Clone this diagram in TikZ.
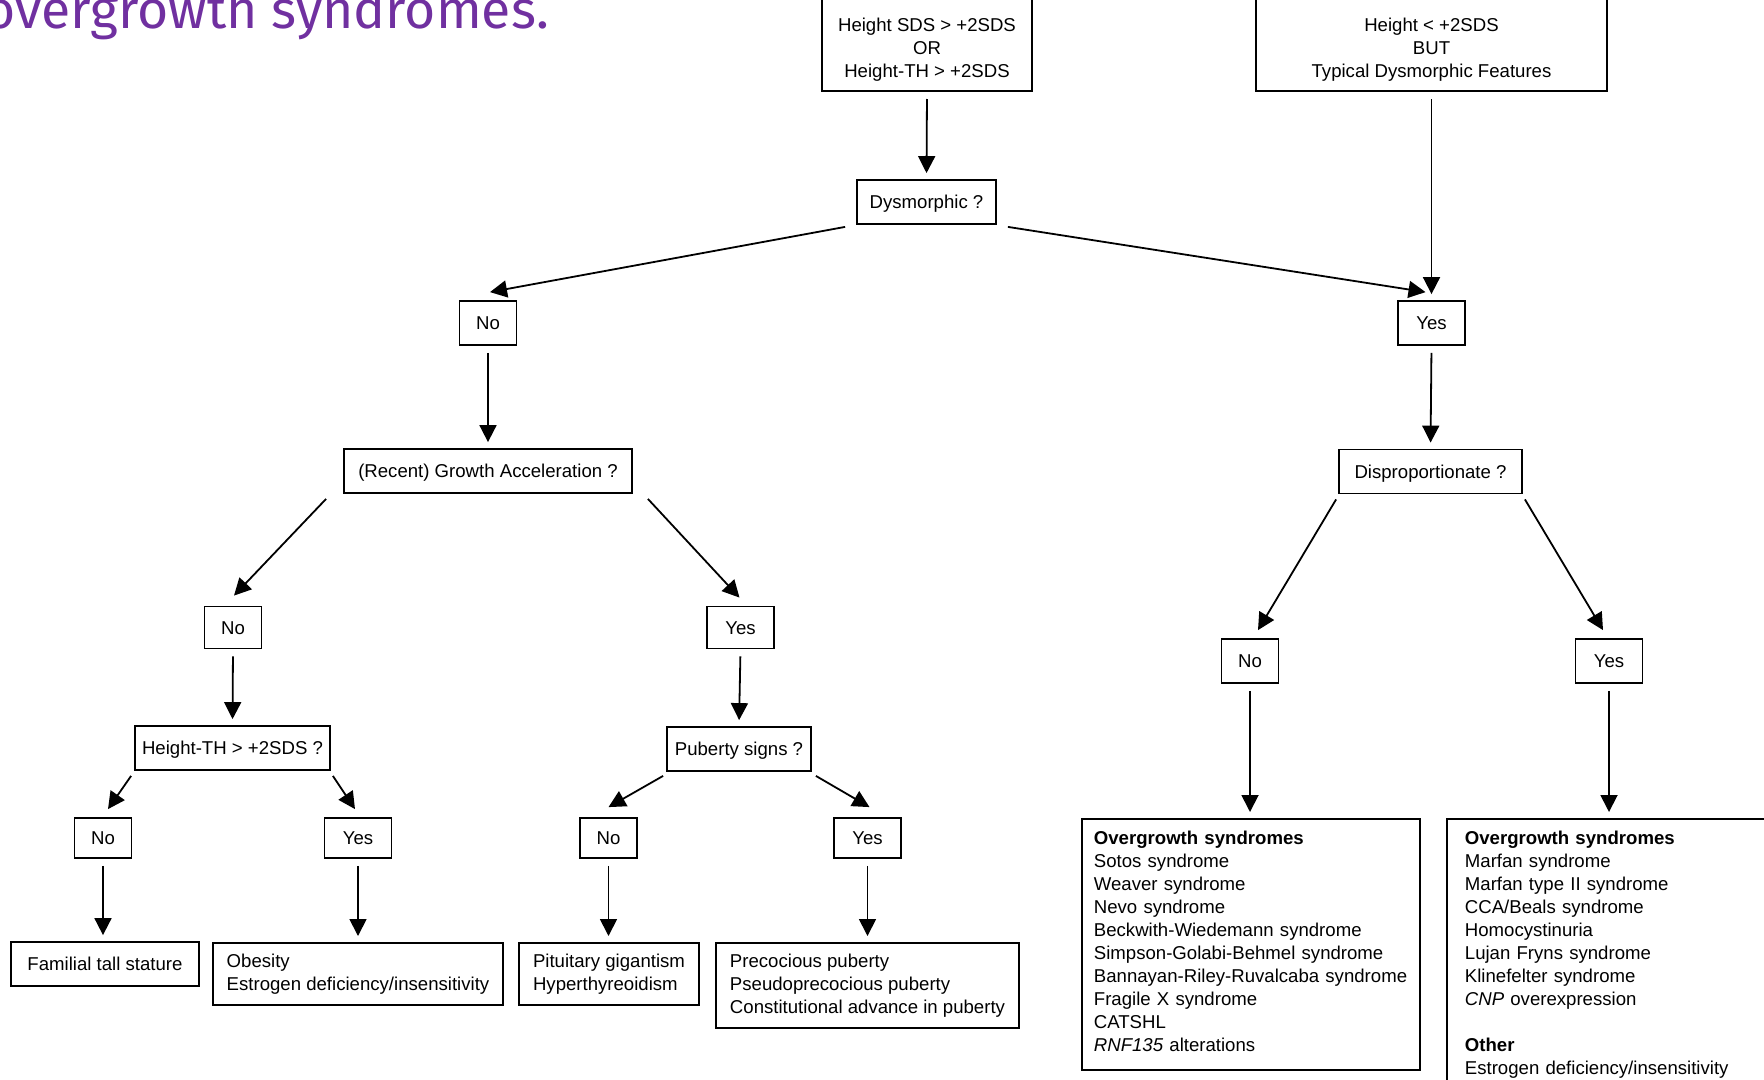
\documentclass[tikz,border=0pt]{standalone}
\usepackage{fontspec}
\setmainfont{Liberation Sans}
\newfontfamily\titlefont{Fira Sans}
\usetikzlibrary{arrows.meta}
\definecolor{titlepurple}{RGB}{112,48,160}

\begin{document}
\begin{tikzpicture}[
          x=1pt, y=-1pt,
          every node/.style={font=\fontsize{18.6pt}{23pt}\selectfont},
          box/.style={draw, line width=1.8pt, inner sep=0pt, align=center},
          qbox/.style={box, minimum height=44pt, text height=13.3pt, text depth=0pt},
          nobox/.style={qbox, minimum width=57pt, minimum height=42pt},
          yesbox/.style={qbox, minimum width=67pt, minimum height=42pt},
          listbox/.style={box, anchor=north, align=left, inner xsep=14pt, inner ysep=12pt},
          arr/.style={line width=1.8pt, -{Triangle[length=17pt,width=17pt]}},
          varr/.style={arr, shorten <=7pt, shorten >=6pt}
        ]
        \useasboundingbox (0,0) rectangle (1764,1079);
        \clip (0,0) rectangle (1764,1079);

        % Title (cut off at the page edge)
        \node[font=\titlefont\fontsize{53.5pt}{60pt}\selectfont, text=titlepurple,
              anchor=base east, inner sep=0pt] (title) at (549,28) {overgrowth syndromes.};

        % Top row (entry criteria)
        \node[box, anchor=south, minimum width=210pt, inner ysep=10pt] (topL) at (927,92)
              {\mbox{}\\\mbox{}\\Height SDS > +2SDS\\OR\\Height-TH > +2SDS};
        \node[box, anchor=south, minimum width=351pt, inner ysep=10pt] (topR) at (1431.5,92)
              {\mbox{}\\\mbox{}\\Height < +2SDS\\BUT\\Typical Dysmorphic Features};

        % Row 1
        \node[qbox, minimum width=139pt] (dys) at (926.5,202) {Dysmorphic ?};

        % Row 2
        \node[nobox, minimum height=44pt] (no1) at (488,323) {No};
        \node[yesbox, minimum height=44pt] (yes1) at (1431.5,323) {Yes};

        % Row 3
        \node[qbox, minimum width=288pt] (grow) at (488,471) {(Recent) Growth Acceleration ?};
        \node[qbox, minimum width=183pt] (disp) at (1430.5,471.5) {Disproportionate ?};

        % Row 4
        \node[nobox] (no2) at (233,627.5) {No};
        \node[yesbox] (yes2) at (740.5,627.5) {Yes};
        \node[nobox, minimum height=44pt] (no5) at (1250,661) {No};
        \node[yesbox, minimum height=44pt] (yes5) at (1609,661) {Yes};

        % Row 5
        \node[qbox, minimum width=195pt] (ht) at (232.5,748) {Height-TH > +2SDS ?};
        \node[qbox, minimum width=144pt] (pub) at (739,749) {Puberty signs ?};

        % Row 6
        \node[nobox, minimum height=40pt] (no3) at (103,838) {No};
        \node[yesbox, minimum height=40pt] (yes3) at (358,838) {Yes};
        \node[nobox, minimum height=40pt] (no4) at (608.5,838) {No};
        \node[yesbox, minimum height=40pt] (yes4) at (867.5,838) {Yes};

        % Bottom row (diagnoses)
        \node[qbox, minimum width=188pt] (fam) at (105,964) {Familial tall stature};
        \node[listbox, inner ysep=11pt] (obes) at (358,942) {Obesity\\Estrogen deficiency/insensitivity};
        \node[listbox, inner ysep=11pt] (pit) at (609,942) {Pituitary gigantism\\Hyperthyreoidism};
        \node[listbox, inner ysep=11pt] (prec) at (867.5,942)
              {Precocious puberty\\Pseudoprecocious puberty\\Constitutional advance in puberty};
        \node[listbox, anchor=north west, text width=314pt, inner xsep=12pt] (ovL) at (1081,818)
              {\textbf{Overgrowth syndromes}\\Sotos syndrome\\Weaver syndrome\\Nevo syndrome\\
               Beckwith-Wiedemann syndrome\\Simpson-Golabi-Behmel syndrome\\
               Bannayan-Riley-Ruvalcaba syndrome\\Fragile X syndrome\\CATSHL\\
               \textit{RNF135} alterations\strut};
        \node[listbox, anchor=north west, text width=360pt, inner xsep=18pt] (ovR) at (1446,818)
              {\textbf{Overgrowth syndromes}\\Marfan syndrome\\Marfan type II syndrome\\
               CCA/Beals syndrome\\Homocystinuria\\Lujan Fryns syndrome\\Klinefelter syndrome\\
               \textit{CNP} overexpression\\[23pt]
               \textbf{Other}\\Estrogen deficiency/insensitivity};

        % Connectors, left half
        \draw[varr] (topL.south) -- (dys.north);
        \draw[arr] ([xshift=-11pt,yshift=-2pt]dys.south west) -- ([xshift=2pt,yshift=8pt]no1.north);
        \draw[varr] (no1.south) -- (grow.north);
        \draw[arr] ([xshift=-17pt,yshift=-5pt]grow.south west) -- ([xshift=1pt,yshift=10pt]no2.north);
        \draw[arr] ([xshift=15pt,yshift=-5pt]grow.south east) -- ([xshift=-1pt,yshift=8pt]yes2.north);
        \draw[varr] (no2.south) -- (ht.north);
        \draw[varr] (yes2.south) -- (pub.north);
        \draw[arr] ([xshift=-3pt,yshift=-5pt]ht.south west) -- ([xshift=5pt,yshift=8pt]no3.north);
        \draw[arr] ([xshift=2pt,yshift=-5pt]ht.south east) -- ([xshift=-3pt,yshift=8pt]yes3.north);
        \draw[arr] ([xshift=-3pt,yshift=-4pt]pub.south west) -- ([yshift=10pt]no4.north);
        \draw[arr] ([xshift=4pt,yshift=-4pt]pub.south east) -- ([xshift=2pt,yshift=10pt]yes4.north);
        \draw[varr] (no3.south) -- (no3.south |- fam.north);
        \draw[varr] (yes3.south) -- (yes3.south |- obes.north);
        \draw[varr] (no4.south) -- (no4.south |- pit.north);
        \draw[varr] (yes4.south) -- (yes4.south |- prec.north);

        % Connectors, right half
        \draw[arr] ([xshift=11pt,yshift=-2pt]dys.south east) -- ([xshift=-6pt,yshift=8pt]yes1.north);
        \draw[varr] (topR.south) -- (yes1.north);
        \draw[varr] (yes1.south) -- (disp.north);
        \draw[arr] ([xshift=-2pt,yshift=-5pt]disp.south west) -- ([xshift=8pt,yshift=8pt]no5.north);
        \draw[arr] ([xshift=2pt,yshift=-5pt]disp.south east) -- ([xshift=-6pt,yshift=8pt]yes5.north);
        \draw[varr] (no5.south) -- (no5.south |- ovL.north);
        \draw[varr] (yes5.south) -- (yes5.south |- ovR.north);

      \end{tikzpicture}
\end{document}
